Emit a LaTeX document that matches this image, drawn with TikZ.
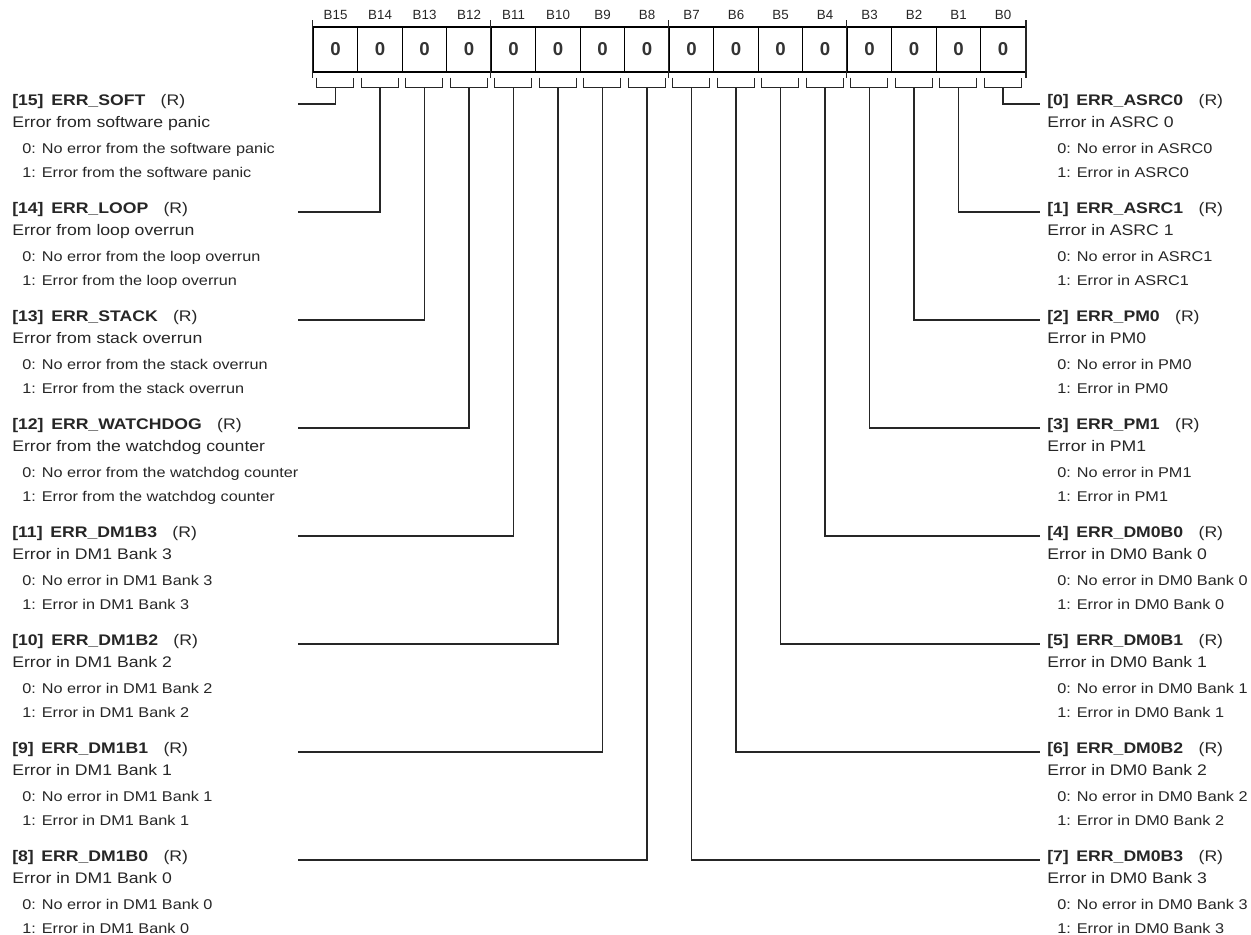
\documentclass[tikz,border=0pt]{standalone}
\usepackage{fontspec}
\setmainfont[FakeStretch=1.15]{Liberation Sans}
\newfontfamily\plainsans{Liberation Sans}
\newcommand\subsz{\fontsize{10.6}{16.5}\selectfont}
\tikzset{
  x=0.75pt, y=-0.75pt,
  bitcell/.style={draw, line width=0.9pt, minimum width=33.375pt, minimum height=33.75pt, inner sep=0pt,
    font=\plainsans\bfseries\fontsize{14}{16}\selectfont, text=black!80},
  bitlbl/.style={font=\plainsans\fontsize{10}{11}\selectfont, inner sep=0pt, text=black!85},
  fieldtxt/.style={align=left, anchor=north west, inner sep=0pt, font=\fontsize{11.5}{16.5}\selectfont, text=black!85},
  wire/.style={line width=0.9pt, black!85},
}
\begin{document}
\begin{tikzpicture}
    \useasboundingbox (0,0) rectangle (1251,934);
    % register cells
    \node[bitcell] (b15) at (335.55,49.5) {0};
    \node[bitcell] (b14) at (380.05,49.5) {0};
    \node[bitcell] (b13) at (424.55,49.5) {0};
    \node[bitcell] (b12) at (469.05,49.5) {0};
    \node[bitcell] (b11) at (513.55,49.5) {0};
    \node[bitcell] (b10) at (558.05,49.5) {0};
    \node[bitcell] (b9) at (602.55,49.5) {0};
    \node[bitcell] (b8) at (647.05,49.5) {0};
    \node[bitcell] (b7) at (691.55,49.5) {0};
    \node[bitcell] (b6) at (736.05,49.5) {0};
    \node[bitcell] (b5) at (780.55,49.5) {0};
    \node[bitcell] (b4) at (825.05,49.5) {0};
    \node[bitcell] (b3) at (869.55,49.5) {0};
    \node[bitcell] (b2) at (914.05,49.5) {0};
    \node[bitcell] (b1) at (958.55,49.5) {0};
    \node[bitcell] (b0) at (1003.05,49.5) {0};
    % bit numbers
    \foreach \b in {0,...,15}
      \node[bitlbl] (l\b) at (b\b |- 0,15) {B\b};
    % nibble ticks
    \draw[wire] ([yshift=4.5pt]b15.north west) -- ([yshift=-3.75pt]b15.south west);
    \draw[wire] ([yshift=4.5pt]b11.north west) -- ([yshift=-3.75pt]b11.south west);
    \draw[wire] ([yshift=4.5pt]b7.north west) -- ([yshift=-3.75pt]b7.south west);
    \draw[wire] ([yshift=4.5pt]b3.north west) -- ([yshift=-3.75pt]b3.south west);
    \draw[wire] ([yshift=4.5pt]b0.north east) -- ([yshift=-3.75pt]b0.south east);
    % brackets under the cells
    \foreach \b in {0,...,15}
      \draw[wire] ([xshift=3pt,yshift=-3.75pt]b\b.south west) -- ++(0,-7.5pt) -| ([xshift=-3.4pt,yshift=-3.75pt]b\b.south east);
    % field descriptions, left
    \node[fieldtxt] (f15) at (12,94) {{\bfseries [15]\enspace ERR\_SOFT}\quad(R)\\ Error from software panic\\[3pt] {\subsz\hspace*{7.5pt}0: No error from the software panic}\\[1.5pt] {\subsz\hspace*{7.5pt}1: Error from the software panic}};
    \node[fieldtxt] (f14) at (12,202) {{\bfseries [14]\enspace ERR\_LOOP}\quad(R)\\ Error from loop overrun\\[3pt] {\subsz\hspace*{7.5pt}0: No error from the loop overrun}\\[1.5pt] {\subsz\hspace*{7.5pt}1: Error from the loop overrun}};
    \node[fieldtxt] (f13) at (12,310) {{\bfseries [13]\enspace ERR\_STACK}\quad(R)\\ Error from stack overrun\\[3pt] {\subsz\hspace*{7.5pt}0: No error from the stack overrun}\\[1.5pt] {\subsz\hspace*{7.5pt}1: Error from the stack overrun}};
    \node[fieldtxt] (f12) at (12,418) {{\bfseries [12]\enspace ERR\_WATCHDOG}\quad(R)\\ Error from the watchdog counter\\[3pt] {\subsz\hspace*{7.5pt}0: No error from the watchdog counter}\\[1.5pt] {\subsz\hspace*{7.5pt}1: Error from the watchdog counter}};
    \node[fieldtxt] (f11) at (12,526) {{\bfseries [11]\enspace ERR\_DM1B3}\quad(R)\\ Error in DM1 Bank 3\\[3pt] {\subsz\hspace*{7.5pt}0: No error in DM1 Bank 3}\\[1.5pt] {\subsz\hspace*{7.5pt}1: Error in DM1 Bank 3}};
    \node[fieldtxt] (f10) at (12,634) {{\bfseries [10]\enspace ERR\_DM1B2}\quad(R)\\ Error in DM1 Bank 2\\[3pt] {\subsz\hspace*{7.5pt}0: No error in DM1 Bank 2}\\[1.5pt] {\subsz\hspace*{7.5pt}1: Error in DM1 Bank 2}};
    \node[fieldtxt] (f9) at (12,742) {{\bfseries [9]\enspace ERR\_DM1B1}\quad(R)\\ Error in DM1 Bank 1\\[3pt] {\subsz\hspace*{7.5pt}0: No error in DM1 Bank 1}\\[1.5pt] {\subsz\hspace*{7.5pt}1: Error in DM1 Bank 1}};
    \node[fieldtxt] (f8) at (12,850) {{\bfseries [8]\enspace ERR\_DM1B0}\quad(R)\\ Error in DM1 Bank 0\\[3pt] {\subsz\hspace*{7.5pt}0: No error in DM1 Bank 0}\\[1.5pt] {\subsz\hspace*{7.5pt}1: Error in DM1 Bank 0}};
    % field descriptions, right
    \node[fieldtxt] (f0) at (1047,94) {{\bfseries [0]\enspace ERR\_ASRC0}\quad(R)\\ Error in ASRC 0\\[3pt] {\subsz\hspace*{7.5pt}0: No error in ASRC0}\\[1.5pt] {\subsz\hspace*{7.5pt}1: Error in ASRC0}};
    \node[fieldtxt] (f1) at (1047,202) {{\bfseries [1]\enspace ERR\_ASRC1}\quad(R)\\ Error in ASRC 1\\[3pt] {\subsz\hspace*{7.5pt}0: No error in ASRC1}\\[1.5pt] {\subsz\hspace*{7.5pt}1: Error in ASRC1}};
    \node[fieldtxt] (f2) at (1047,310) {{\bfseries [2]\enspace ERR\_PM0}\quad(R)\\ Error in PM0\\[3pt] {\subsz\hspace*{7.5pt}0: No error in PM0}\\[1.5pt] {\subsz\hspace*{7.5pt}1: Error in PM0}};
    \node[fieldtxt] (f3) at (1047,418) {{\bfseries [3]\enspace ERR\_PM1}\quad(R)\\ Error in PM1\\[3pt] {\subsz\hspace*{7.5pt}0: No error in PM1}\\[1.5pt] {\subsz\hspace*{7.5pt}1: Error in PM1}};
    \node[fieldtxt] (f4) at (1047,526) {{\bfseries [4]\enspace ERR\_DM0B0}\quad(R)\\ Error in DM0 Bank 0\\[3pt] {\subsz\hspace*{7.5pt}0: No error in DM0 Bank 0}\\[1.5pt] {\subsz\hspace*{7.5pt}1: Error in DM0 Bank 0}};
    \node[fieldtxt] (f5) at (1047,634) {{\bfseries [5]\enspace ERR\_DM0B1}\quad(R)\\ Error in DM0 Bank 1\\[3pt] {\subsz\hspace*{7.5pt}0: No error in DM0 Bank 1}\\[1.5pt] {\subsz\hspace*{7.5pt}1: Error in DM0 Bank 1}};
    \node[fieldtxt] (f6) at (1047,742) {{\bfseries [6]\enspace ERR\_DM0B2}\quad(R)\\ Error in DM0 Bank 2\\[3pt] {\subsz\hspace*{7.5pt}0: No error in DM0 Bank 2}\\[1.5pt] {\subsz\hspace*{7.5pt}1: Error in DM0 Bank 2}};
    \node[fieldtxt] (f7) at (1047,850) {{\bfseries [7]\enspace ERR\_DM0B3}\quad(R)\\ Error in DM0 Bank 3\\[3pt] {\subsz\hspace*{7.5pt}0: No error in DM0 Bank 3}\\[1.5pt] {\subsz\hspace*{7.5pt}1: Error in DM0 Bank 3}};
    % leader ends
    \coordinate (c15) at (298,104);  \coordinate (c0) at (1040,104);
    \coordinate (c14) at (298,212);  \coordinate (c1) at (1040,212);
    \coordinate (c13) at (298,320);  \coordinate (c2) at (1040,320);
    \coordinate (c12) at (298,428);  \coordinate (c3) at (1040,428);
    \coordinate (c11) at (298,536);  \coordinate (c4) at (1040,536);
    \coordinate (c10) at (298,644);  \coordinate (c5) at (1040,644);
    \coordinate (c9) at (298,752);   \coordinate (c6) at (1040,752);
    \coordinate (c8) at (298,860);   \coordinate (c7) at (1040,860);
    % leaders
    \draw[wire] ([yshift=-11.25pt]b15.south) |- (c15);
    \draw[wire] ([yshift=-11.25pt]b14.south) |- (c14);
    \draw[wire] ([yshift=-11.25pt]b13.south) |- (c13);
    \draw[wire] ([yshift=-11.25pt]b12.south) |- (c12);
    \draw[wire] ([yshift=-11.25pt]b11.south) |- (c11);
    \draw[wire] ([yshift=-11.25pt]b10.south) |- (c10);
    \draw[wire] ([yshift=-11.25pt]b9.south) |- (c9);
    \draw[wire] ([yshift=-11.25pt]b8.south) |- (c8);
    \draw[wire] ([yshift=-11.25pt]b7.south) |- (c7);
    \draw[wire] ([yshift=-11.25pt]b6.south) |- (c6);
    \draw[wire] ([yshift=-11.25pt]b5.south) |- (c5);
    \draw[wire] ([yshift=-11.25pt]b4.south) |- (c4);
    \draw[wire] ([yshift=-11.25pt]b3.south) |- (c3);
    \draw[wire] ([yshift=-11.25pt]b2.south) |- (c2);
    \draw[wire] ([yshift=-11.25pt]b1.south) |- (c1);
    \draw[wire] ([yshift=-11.25pt]b0.south) |- (c0);
\end{tikzpicture}
\end{document}
